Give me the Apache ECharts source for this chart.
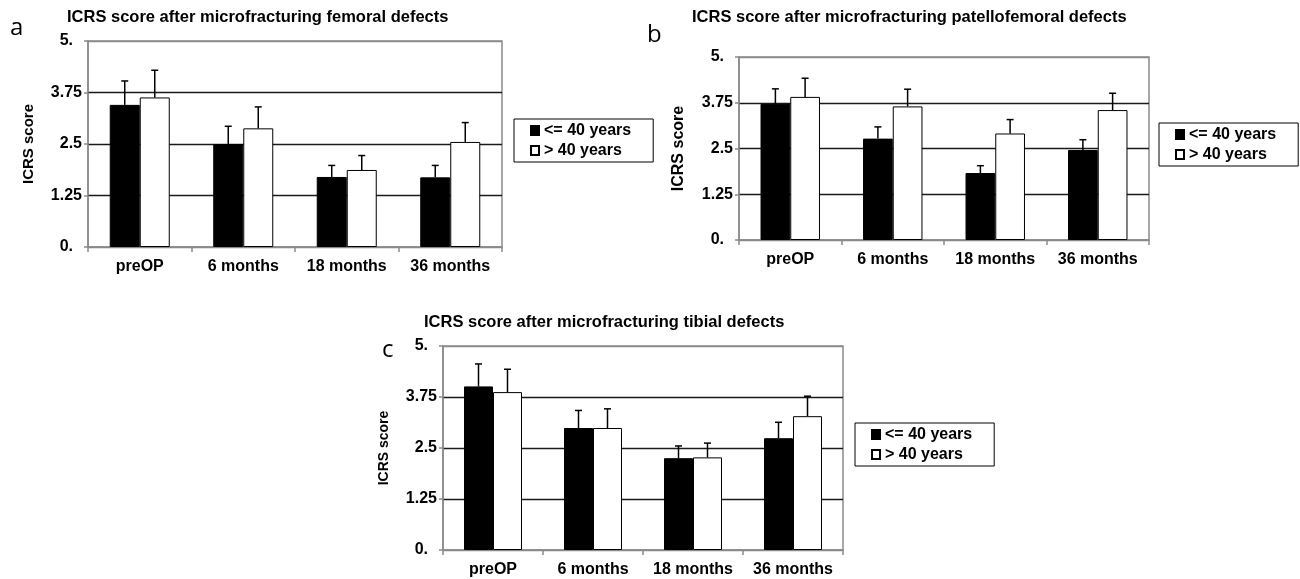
<!DOCTYPE html>
<html>
<head>
<meta charset="utf-8">
<script src="https://cdn.jsdelivr.net/npm/echarts@6/dist/echarts.min.js"></script>
<style>
html,body{margin:0;padding:0;background:#fff;}
#chart{width:1300px;height:579px;}
</style>
</head>
<body>
<div id="chart"></div>
<script>
// ---- data ----
const categories = ['preOP', '6 months', '18 months', '36 months'];
const yTickLabels = ['0.', '1.25', '2.5', '3.75', '5.'];
const seriesNames = ['<= 40 years', '> 40 years'];
const panelTitles = [
  'ICRS score after microfracturing femoral defects',
  'ICRS score after microfracturing patellofemoral defects',
  'ICRS score after microfracturing tibial defects'
];
const panelLetters = ['a', 'b', 'c'];
const yAxisTitle = 'ICRS score';

const femoralYoung = [3.45, 2.50, 1.70, 1.69];
const femoralYoungErr = [0.58, 0.43, 0.28, 0.29];
const femoralOld = [3.63, 2.88, 1.87, 2.55];
const femoralOldErr = [0.66, 0.52, 0.35, 0.47];

const patelloYoung = [3.72, 2.77, 1.83, 2.46];
const patelloYoungErr = [0.41, 0.32, 0.20, 0.28];
const patelloOld = [3.91, 3.65, 2.91, 3.55];
const patelloOldErr = [0.51, 0.47, 0.38, 0.46];

const tibialYoung = [4.01, 2.99, 2.25, 2.74];
const tibialYoungErr = [0.55, 0.43, 0.30, 0.39];
const tibialOld = [3.87, 2.99, 2.27, 3.28];
const tibialOldErr = [0.56, 0.47, 0.35, 0.49];

// ---- layout ----
const FONT = '"Liberation Sans", Arial, sans-serif';
const BAR_FRAC = 0.29;
const panels = [
  {young: femoralYoung, youngErr: femoralYoungErr, old: femoralOld, oldErr: femoralOldErr,
   grid: {left: 88, top: 41, width: 414, height: 206}, nameSize: 15,
   legend: {left: 514, top: 119}, title: [67, 17], letter: [10, 28]},
  {young: patelloYoung, youngErr: patelloYoungErr, old: patelloOld, oldErr: patelloOldErr,
   grid: {left: 739, top: 57, width: 410, height: 183}, nameSize: 16,
   legend: {left: 1159, top: 123}, title: [692, 17], letter: [647, 35]},
  {young: tibialYoung, youngErr: tibialYoungErr, old: tibialOld, oldErr: tibialOldErr,
   grid: {left: 443, top: 346, width: 400, height: 204}, nameSize: 14,
   legend: {left: 855, top: 423}, title: [424, 322], letter: [382, 350]}
];

const GREY = '#8a8a8a';
const grids = [], xAxes = [], yAxes = [], series = [], legends = [], graphics = [];

function errRenderer(sign) {
  return function (params, api) {
    const cat = api.value(0), val = api.value(1), sd = api.value(2);
    const band = api.size([1, 0])[0];
    const base = api.coord([cat, val]);
    const top = api.coord([cat, val + sd]);
    const x = base[0] + sign * band * BAR_FRAC / 2;
    return {
      type: 'group',
      children: [
        {type: 'line', shape: {x1: x, y1: base[1], x2: x, y2: top[1]}, style: {stroke: '#000', lineWidth: 1.5}},
        {type: 'line', shape: {x1: x - 3.5, y1: top[1], x2: x + 3.5, y2: top[1]}, style: {stroke: '#000', lineWidth: 1.5}}
      ]
    };
  };
}

panels.forEach((p, i) => {
  grids.push(Object.assign({show: true, borderColor: GREY, borderWidth: 1.5, backgroundColor: 'transparent'}, p.grid));
  xAxes.push({
    type: 'category', gridIndex: i, data: categories,
    axisLine: {lineStyle: {color: GREY, width: 1.5}},
    axisTick: {show: true, length: 5, interval: 0, lineStyle: {color: GREY, width: 1.5}},
    axisLabel: {interval: 0, color: '#000', fontFamily: FONT, fontWeight: 'bold', fontSize: 16, margin: 12},
    splitLine: {show: false}
  });
  yAxes.push({
    type: 'value', gridIndex: i, min: 0, max: 5, interval: 1.25,
    name: yAxisTitle, nameLocation: 'middle', nameRotate: 90, nameGap: 52,
    nameTextStyle: {color: '#000', fontFamily: FONT, fontWeight: 'bold', fontSize: p.nameSize},
    axisLine: {show: true, lineStyle: {color: GREY, width: 1.5}},
    axisTick: {show: true, length: 4, lineStyle: {color: GREY, width: 1.5}},
    axisLabel: {
      color: '#000', fontFamily: FONT, fontWeight: 'bold', fontSize: 16, margin: 6,
      formatter: function (v) {
        const t = yTickLabels[Math.round(v / 1.25)];
        return t.endsWith('.') ? '{p|' + t + '}' : t;
      },
      rich: {p: {padding: [0, 9, 0, 0], color: '#000', fontFamily: FONT, fontWeight: 'bold', fontSize: 16}}
    },
    splitLine: {show: true, lineStyle: {color: [GREY, '#1a1a1a', '#1a1a1a', '#1a1a1a', GREY], width: 1.3}}
  });
  series.push({
    name: seriesNames[0], type: 'bar', xAxisIndex: i, yAxisIndex: i, data: p.young,
    barWidth: (BAR_FRAC * 100) + '%', barGap: '0%',
    itemStyle: {color: '#000', borderColor: '#000', borderWidth: 1}, z: 3
  });
  series.push({
    name: seriesNames[1], type: 'bar', xAxisIndex: i, yAxisIndex: i, data: p.old,
    barWidth: (BAR_FRAC * 100) + '%', barGap: '0%',
    itemStyle: {color: '#fff', borderColor: '#000', borderWidth: 1}, z: 3
  });
  series.push({
    type: 'custom', xAxisIndex: i, yAxisIndex: i, z: 4,
    renderItem: errRenderer(-1),
    data: categories.map((c, k) => [k, p.young[k], p.youngErr[k]])
  });
  series.push({
    type: 'custom', xAxisIndex: i, yAxisIndex: i, z: 4,
    renderItem: errRenderer(1),
    data: categories.map((c, k) => [k, p.old[k], p.oldErr[k]])
  });
  legends.push({
    left: p.legend.left, top: p.legend.top, orient: 'vertical',
    data: seriesNames.map(n => ({name: n, icon: 'rect'})), selectedMode: false,
    backgroundColor: '#fff', borderColor: '#000', borderWidth: 1,
    padding: [2, 22, 2, 16], itemGap: 1, itemWidth: 8, itemHeight: 9,
    textStyle: {color: '#000', fontFamily: FONT, fontWeight: 'bold', fontSize: 16, lineHeight: 19}
  });
  graphics.push({
    type: 'text', x: p.title[0], y: p.title[1],
    style: {text: panelTitles[i], font: 'bold 16.5px ' + FONT, fill: '#000', verticalAlign: 'middle'}
  });
  graphics.push({
    type: 'text', x: p.letter[0], y: p.letter[1],
    style: {text: panelLetters[i], font: '24px "Open Sans", sans-serif', fill: '#000', verticalAlign: 'middle'}
  });
});

const chart = echarts.init(document.getElementById('chart'), null, {renderer: 'canvas'});
chart.setOption({
  animation: false,
  backgroundColor: '#fff',
  grid: grids, xAxis: xAxes, yAxis: yAxes, series: series, legend: legends, graphic: graphics
});
</script>
</body>
</html>
